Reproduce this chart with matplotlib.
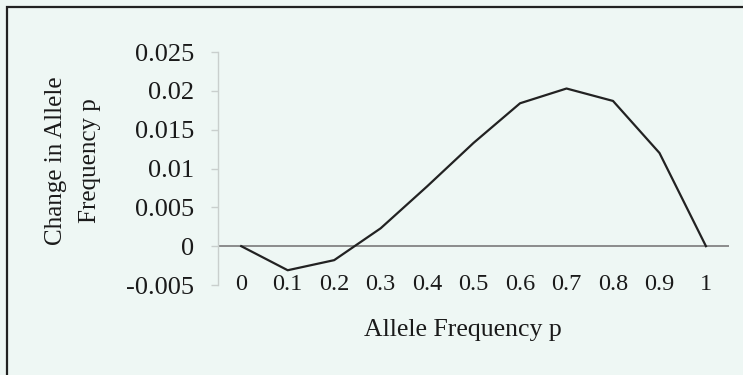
import matplotlib
matplotlib.use('Agg')
import matplotlib.pyplot as plt
from matplotlib.patches import Rectangle

plt.rcParams['font.family'] = ['Liberation Serif', 'DejaVu Serif']

# allele frequency categories and the change per generation
p_labels = ['0', '0.1', '0.2', '0.3', '0.4', '0.5', '0.6', '0.7', '0.8', '0.9', '1']
delta_p = [0.0, -0.0031, -0.0018, 0.0023, 0.0077, 0.0133, 0.0184, 0.0203, 0.0187, 0.0120, 0.0]
y_ticks = [-0.005, 0, 0.005, 0.01, 0.015, 0.02, 0.025]
y_tick_labels = ['-0.005', '0', '0.005', '0.01', '0.015', '0.02', '0.025']

bg = '#eef7f4'
fig = plt.figure(figsize=(7.43, 3.75), dpi=100, facecolor=bg)
ax = fig.add_axes([0.2934, 0.24, 0.688, 0.6213], facecolor=bg)

x = list(range(len(p_labels)))
ax.axhline(0, color='#7a7a7a', lw=1.2, zorder=1)
ax.plot(x, delta_p, color='#222222', lw=1.6, zorder=2)

ax.set_xlim(-0.5, len(p_labels) - 0.5)
ax.set_ylim(-0.005, 0.025)
ax.set_xticks(x)
ax.set_xticklabels(p_labels)
ax.set_yticks(y_ticks)
ax.set_yticklabels(y_tick_labels)

for side in ['top', 'right', 'bottom']:
    ax.spines[side].set_visible(False)
ax.spines['left'].set_color('#c9cfcd')
ax.spines['left'].set_linewidth(1.0)

ax.tick_params(axis='x', length=0, pad=-8, labelsize=17.5, colors='#1a1a1a')
ax.tick_params(axis='y', length=5, width=1, color='#c9cfcd', pad=12,
               labelsize=19, labelcolor='#1a1a1a')

ax.set_xlabel('Allele Frequency p', fontsize=18.5, color='#1a1a1a')
ax.xaxis.label.set_va('center')
ax.xaxis.set_label_coords(0.479, -0.193)

ax.set_ylabel('Change in Allele\nFrequency p', fontsize=18, color='#1a1a1a',
              linespacing=1.7)
ax.yaxis.label.set_va('center')
ax.yaxis.set_label_coords(-0.283, 0.532)

# outer chart border, running off the right and bottom edges
fig.add_artist(Rectangle((7 / 743, -0.2), 1.2, 1.2 - 7 / 375,
                         transform=fig.transFigure, fill=False,
                         edgecolor='#222222', lw=1.6, clip_on=False))

fig.savefig('out.png', dpi=100, facecolor=bg)
